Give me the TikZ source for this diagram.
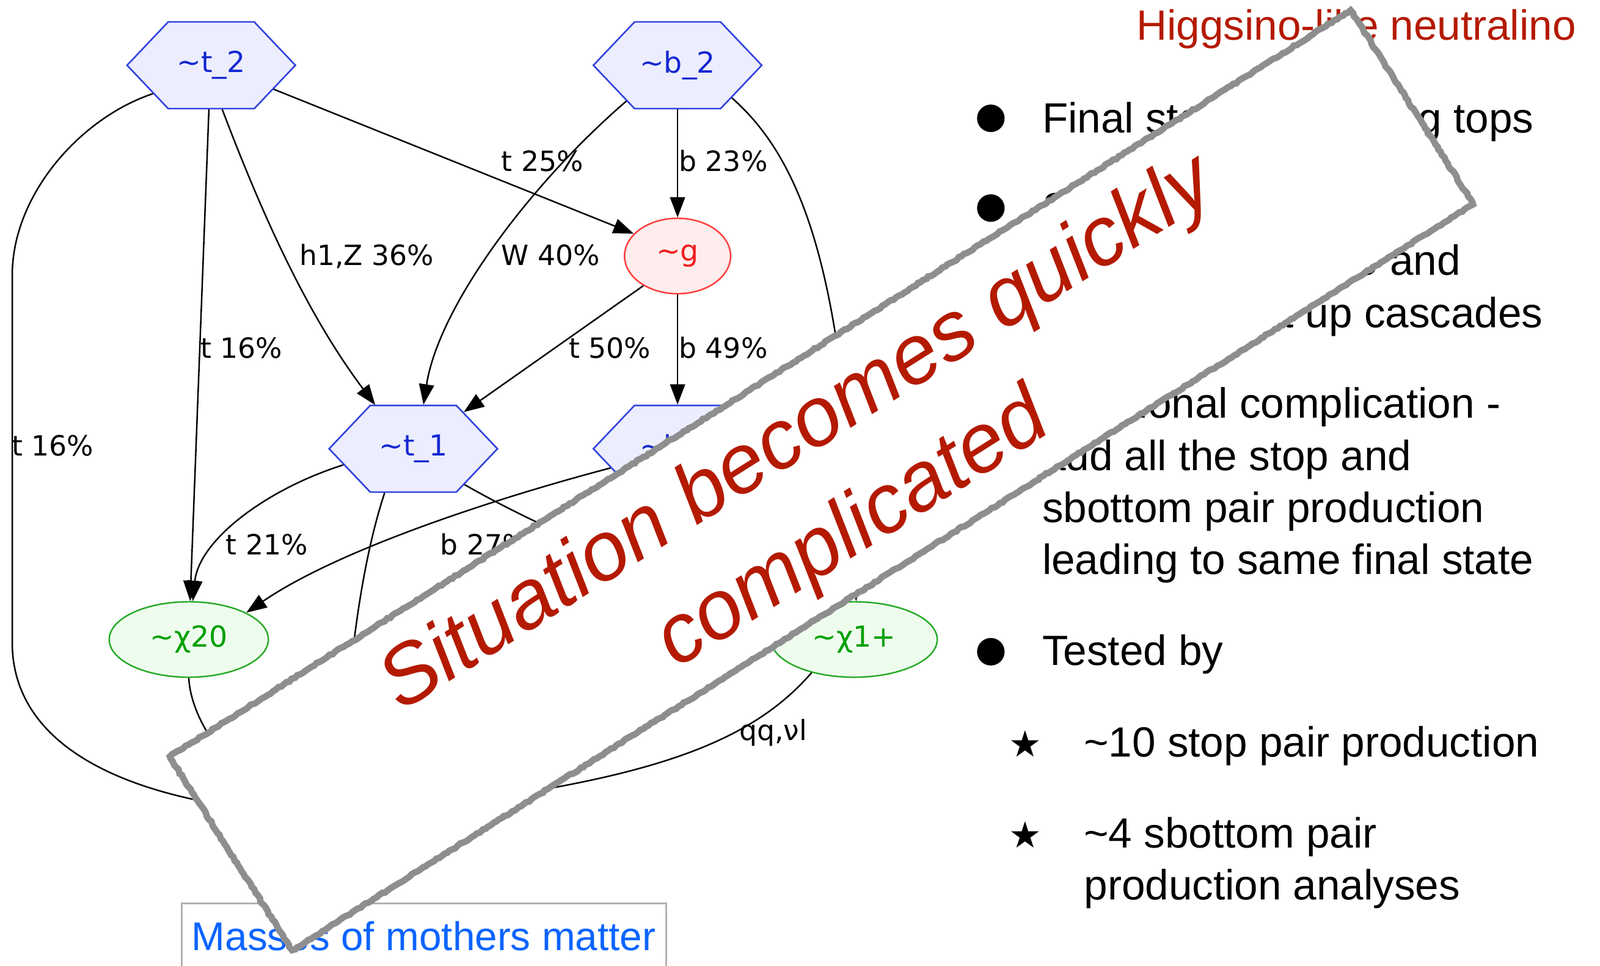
\documentclass[tikz,border=0pt]{standalone}
\usepackage{fontspec}
\usetikzlibrary{shapes.symbols,shapes.geometric,arrows.meta,decorations.pathmorphing}

\newfontfamily\gvfont{DejaVu Sans}
\newfontfamily\slidefont{Liberation Sans}

\definecolor{sqline}{RGB}{51,68,221}
\definecolor{sqfill}{RGB}{236,238,253}
\definecolor{sqtext}{RGB}{20,40,210}
\definecolor{glline}{RGB}{255,60,60}
\definecolor{glfill}{RGB}{255,236,236}
\definecolor{gltext}{RGB}{240,30,30}
\definecolor{inoline}{RGB}{40,170,40}
\definecolor{inofill}{RGB}{238,252,238}
\definecolor{inotext}{RGB}{0,160,0}
\definecolor{slidered}{RGB}{180,26,0}
\definecolor{notetext}{RGB}{12,100,255}
\definecolor{stampgray}{RGB}{142,142,142}

\begin{document}
\begin{tikzpicture}[x=0.016703cm,y=-0.016703cm,
  sq/.style={signal,signal to=west and east,signal pointer angle=93,draw=sqline,fill=sqfill,text=sqtext,line width=0.75pt,minimum width=2.756cm,minimum height=1.42cm,inner sep=0pt,font=\gvfont\fontsize{13.5}{15}\selectfont},
  gl/.style={ellipse,draw=glline,fill=glfill,text=gltext,line width=0.7pt,minimum width=1.737cm,minimum height=1.236cm,inner sep=0pt,font=\gvfont\fontsize{13.5}{15}\selectfont},
  ino/.style={ellipse,draw=inoline,fill=inofill,text=inotext,line width=0.7pt,minimum height=1.236cm,inner sep=0pt,font=\gvfont\fontsize{13.5}{15}\selectfont},
  decay/.style={-{Triangle[length=9.5pt,width=7pt]},line width=0.7pt},
  br/.style={font=\gvfont\fontsize{13}{15}\selectfont,inner sep=0pt,anchor=base west},
  slide/.style={font=\slidefont\fontsize{19.7}{24}\selectfont,inner sep=0pt,anchor=base west},
  dot/.style={circle,fill=black,inner sep=0pt,minimum size=0.451cm}]

\useasboundingbox (0,0) rectangle (1568,947);

\node[sq] (t2) at (207,64) {\textasciitilde t\_2};
\node[sq] (b2) at (664,64) {\textasciitilde b\_2};
\node[gl] (g) at (664,251) {\textasciitilde g};
\node[sq] (t1) at (405,440) {\textasciitilde t\_1};
\node[sq] (b1) at (664,440) {\textasciitilde b\_1};
\node[ino,minimum width=2.606cm] (chi20) at (185,627) {\textasciitilde χ20};
\node[ino,minimum width=2.723cm] (chi1p) at (837,627) {\textasciitilde χ1+};
\coordinate (chi10) at (335,800);

\draw[decay] (t2.-21) -- (g.153);
\draw[decay] (t2.-76) .. controls (256,208) and (300,307) .. (t1.131);
\draw[decay] (t2.-93) -- (chi20.88);
\draw[decay] (t2.-154) .. controls (80,115) and (12,190) .. (12,270) -- (12,630) .. controls (12,730) and (120,790) .. (chi10);
\draw[decay] (b2.-145) .. controls (520,180) and (430,300) .. (t1.77);
\draw[decay] (b2.south) -- (g.north);
\draw[decay] (b2.-31) .. controls (790,160) and (830,280) .. (chi1p.87);
\draw[decay] (g.-139) -- (t1.36);
\draw[decay] (g.south) -- (b1.north);
\draw[decay] (t1.-167) .. controls (260,480) and (195,530) .. (chi20.84);
\draw[decay] (b1.-164) .. controls (480,490) and (330,540) .. (chi20.25);
\draw[decay] (t1.-35) .. controls (560,535) and (700,585) .. (chi1p.165);
\draw[decay] (t1.-123) .. controls (355,550) and (340,650) .. (chi10);
\draw[decay] (chi20.south) .. controls (188,720) and (250,790) .. (chi10);
\draw[decay] (chi1p.-142) .. controls (730,735) and (620,770) .. (chi10);

\node[br] (brt25) at (491,168) {t 25\%};
\node[br] (brb23) at (665,168) {b 23\%};
\node[br] (brh36) at (293,260) {h1,Z 36\%};
\node[br] (brw40) at (491,260) {W 40\%};
\node[br] (brt16a) at (196,351) {t 16\%};
\node[br] (brt50) at (557,351) {t 50\%};
\node[br] (brb49) at (665,351) {b 49\%};
\node[br] (brt16b) at (11,447) {t 16\%};
\node[br] (brt21) at (221,544) {t 21\%};
\node[br] (brb27) at (431,544) {b 27\%};
\node[br] (brqq) at (724,726) {qq,νl};

\node[slide,anchor=base east,text=slidered] (title) at (1545,39) {Higgsino-like neutralino};
\foreach \y in {116,204,396,639}
\node[dot] (dot\y) at (971,\y) {};
\foreach \y/\txt in {130/Final state containing tops,218/Sbottoms decay,270/{to stop, neutralino and},321/charginos set up cascades,410/Additional complication -,461/add all the stop and,512/sbottom pair production,563/leading to same final state,652/Tested by}
\node[slide] (line\y) at (1021,\y) {\txt};
\foreach \y in {742,831}
\node[anchor=base,inner sep=0pt,font=\gvfont\fontsize{17}{17}\selectfont] (star\y) at (1005,\y) {★};
\node[slide] (test1) at (1062,742) {\textasciitilde 10 stop pair production};
\node[slide] (test2) at (1062,831) {\textasciitilde 4 sbottom pair};
\node[slide] (test3) at (1062,882) {production analyses};

\draw[gray!60,line width=0.8pt] (178,947) |- (653,886) -- (653,947);
\node[anchor=base west,inner sep=0pt,text=notetext,font=\slidefont\fontsize{18.7}{22}\selectfont] (note) at (187.5,931.6) {Masses of mothers matter};

\node[draw=stampgray,fill=white,line width=3pt,rotate=32.3,minimum width=22.88cm,minimum height=3.758cm,inner sep=0pt,decorate,decoration={random steps,segment length=1.5pt,amplitude=0.35pt}] (stamp) at (805,471) {};
\node[anchor=base,rotate=32.3,inner sep=0pt,text=slidered,font=\slidefont\itshape\fontsize{39}{47}\selectfont] (stamp1) at (794,445) {Situation becomes quickly};
\node[anchor=base,rotate=32.3,inner sep=0pt,text=slidered,font=\slidefont\itshape\fontsize{39}{47}\selectfont] (stamp2) at (848,539) {complicated};
\end{tikzpicture}
\end{document}
